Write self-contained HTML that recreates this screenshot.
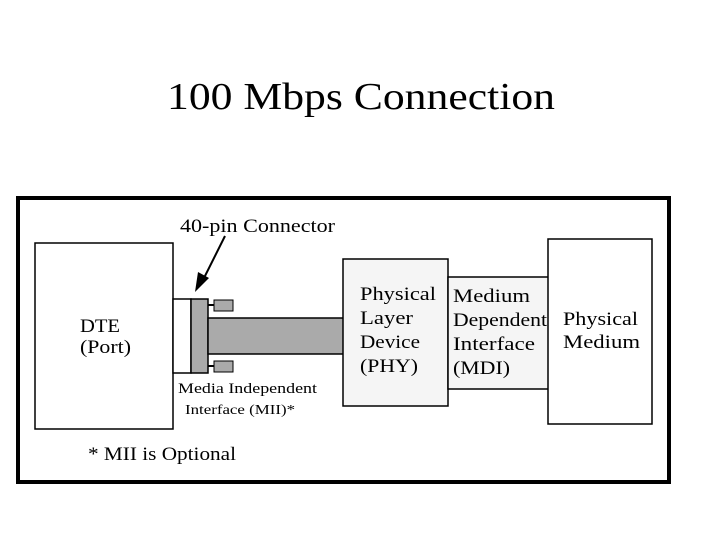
<!DOCTYPE html>
<html><head><meta charset="utf-8"><style>body{margin:0;background:#fff}svg{display:block}text{font-family:"Liberation Serif",serif}</style></head>
<body>
<svg width="720" height="540" xmlns="http://www.w3.org/2000/svg">
<rect width="720" height="540" fill="#fff"/>
<text x="167" y="109" font-size="38" textLength="388" lengthAdjust="spacingAndGlyphs">100 Mbps Connection</text>
<rect x="18" y="198" width="651" height="284" fill="#fff" stroke="#000" stroke-width="4"/>
<rect x="35" y="243" width="138" height="186" fill="#fff" stroke="#000" stroke-width="1.5"/>
<rect x="173" y="299" width="18" height="74" fill="#fff" stroke="#000" stroke-width="1.5"/>
<rect x="191" y="299" width="17" height="74" fill="#aaa" stroke="#000" stroke-width="1.5"/>
<line x1="208" y1="305" x2="214" y2="305" stroke="#000" stroke-width="2"/>
<rect x="214" y="300" width="19" height="11" fill="#aaa" stroke="#000" stroke-width="1"/>
<line x1="208" y1="366" x2="214" y2="366" stroke="#000" stroke-width="2"/>
<rect x="214" y="361" width="19" height="11" fill="#aaa" stroke="#000" stroke-width="1"/>
<rect x="208" y="318" width="136" height="36" fill="#aaa" stroke="#000" stroke-width="1.5"/>
<rect x="343" y="259" width="105" height="147" fill="#f5f5f5" stroke="#000" stroke-width="1.5"/>
<rect x="448" y="277" width="101" height="112" fill="#f5f5f5" stroke="#000" stroke-width="1.5"/>
<rect x="548" y="239" width="104" height="185" fill="#fff" stroke="#000" stroke-width="1.5"/>
<line x1="225" y1="236" x2="203" y2="280" stroke="#000" stroke-width="2"/>
<polygon points="195,292 198,272 209,278" fill="#000"/>
<g font-size="19" lengthAdjust="spacingAndGlyphs">
<text x="180" y="232" textLength="155" lengthAdjust="spacingAndGlyphs">40-pin Connector</text>
<text x="80" y="332" textLength="40" lengthAdjust="spacingAndGlyphs">DTE</text>
<text x="80" y="353" textLength="51" lengthAdjust="spacingAndGlyphs">(Port)</text>
<text x="360" y="300" textLength="76" lengthAdjust="spacingAndGlyphs">Physical</text>
<text x="360" y="324" textLength="53" lengthAdjust="spacingAndGlyphs">Layer</text>
<text x="360" y="348" textLength="60" lengthAdjust="spacingAndGlyphs">Device</text>
<text x="360" y="372" textLength="58" lengthAdjust="spacingAndGlyphs">(PHY)</text>
<text x="453" y="302" textLength="77" lengthAdjust="spacingAndGlyphs">Medium</text>
<text x="453" y="326" textLength="94" lengthAdjust="spacingAndGlyphs">Dependent</text>
<text x="453" y="350" textLength="82" lengthAdjust="spacingAndGlyphs">Interface</text>
<text x="453" y="374" textLength="57" lengthAdjust="spacingAndGlyphs">(MDI)</text>
<text x="563" y="325" textLength="75" lengthAdjust="spacingAndGlyphs">Physical</text>
<text x="563" y="348" textLength="77" lengthAdjust="spacingAndGlyphs">Medium</text>
<text x="88" y="460" textLength="148" lengthAdjust="spacingAndGlyphs">* MII is Optional</text>
</g>
<text x="178" y="393" font-size="15" textLength="139" lengthAdjust="spacingAndGlyphs">Media Independent</text>
<text x="185" y="414" font-size="14" textLength="110" lengthAdjust="spacingAndGlyphs">Interface (MII)*</text>
</svg>
</body></html>
